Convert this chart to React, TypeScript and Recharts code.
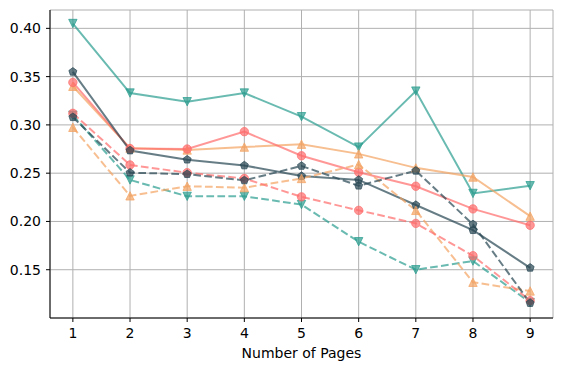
import { LineChart, Line, XAxis, YAxis, CartesianGrid } from 'recharts';

const pages = [1, 2, 3, 4, 5, 6, 7, 8, 9];

const tealSolid = [0.405, 0.333, 0.324, 0.333, 0.3085, 0.277, 0.335, 0.229, 0.237];
const orangeSolid = [0.340, 0.276, 0.274, 0.277, 0.280, 0.270, 0.2555, 0.246, 0.2055];
const salmonSolid = [0.344, 0.2755, 0.275, 0.293, 0.268, 0.251, 0.2365, 0.213, 0.196];
const darkSolid = [0.355, 0.2735, 0.264, 0.258, 0.247, 0.243, 0.217, 0.191, 0.152];

const salmonDashed = [0.312, 0.2585, 0.2505, 0.2445, 0.2255, 0.2115, 0.198, 0.1645, 0.118];
const darkDashed = [0.308, 0.2505, 0.249, 0.2425, 0.2575, 0.237, 0.2525, 0.197, 0.1155];
const orangeDashed = [0.2975, 0.2265, 0.2365, 0.235, 0.2445, 0.259, 0.2115, 0.137, 0.128];
const tealDashed = [0.310, 0.243, 0.226, 0.226, 0.2175, 0.179, 0.150, 0.159, 0.116];

const yTicks = [0.15, 0.2, 0.25, 0.3, 0.35, 0.4];

const TEAL = '#2a9d8f';
const DARK = '#264653';
const SALMON = '#ff6b6b';
const ORANGE = '#f4a261';
const ALPHA = 0.7;

type Shape = 'circle' | 'up' | 'down' | 'pentagon';

const series: { key: string; values: number[]; color: string; shape: Shape; dashed: boolean }[] = [
  { key: 'tealSolid', values: tealSolid, color: TEAL, shape: 'down', dashed: false },
  { key: 'orangeSolid', values: orangeSolid, color: ORANGE, shape: 'up', dashed: false },
  { key: 'salmonSolid', values: salmonSolid, color: SALMON, shape: 'circle', dashed: false },
  { key: 'darkSolid', values: darkSolid, color: DARK, shape: 'pentagon', dashed: false },
  { key: 'tealDashed', values: tealDashed, color: TEAL, shape: 'down', dashed: true },
  { key: 'orangeDashed', values: orangeDashed, color: ORANGE, shape: 'up', dashed: true },
  { key: 'salmonDashed', values: salmonDashed, color: SALMON, shape: 'circle', dashed: true },
  { key: 'darkDashed', values: darkDashed, color: DARK, shape: 'pentagon', dashed: true },
];

const data = pages.map((page, i) => {
  const row: Record<string, number> = { page };
  series.forEach((s) => {
    row[s.key] = s.values[i];
  });
  return row;
});

const S = 4.2;

function markerPath(shape: Shape, cx: number, cy: number) {
  if (shape === 'up') {
    return `M${cx},${cy - S}L${cx - S},${cy + S}L${cx + S},${cy + S}Z`;
  }
  if (shape === 'down') {
    return `M${cx},${cy + S}L${cx - S},${cy - S}L${cx + S},${cy - S}Z`;
  }
  if (shape === 'pentagon') {
    const pts = [0, 1, 2, 3, 4].map((k) => {
      const a = -Math.PI / 2 + (k * 2 * Math.PI) / 5;
      return `${cx + S * Math.cos(a)},${cy + S * Math.sin(a)}`;
    });
    return `M${pts.join('L')}Z`;
  }
  return `M${cx - S},${cy}a${S},${S} 0 1,0 ${2 * S},0a${S},${S} 0 1,0 ${-2 * S},0`;
}

const makeDot = (shape: Shape, color: string) => (props: any) => {
  const { cx, cy, index } = props;
  if (cx == null || cy == null) return <g key={`d-${index}`} />;
  return (
    <path
      key={`d-${shape}-${index}`}
      d={markerPath(shape, cx, cy)}
      fill={color}
      fillOpacity={ALPHA}
      stroke={color}
      strokeOpacity={ALPHA}
      strokeWidth={1}
    />
  );
};

const tickStyle = { fill: '#000', fontSize: 14, fontFamily: 'DejaVu Sans' };

export default function App() {
  return (
    <div style={{ position: 'absolute', left: 0, top: 0, background: '#fff' }}>
      <LineChart
        width={562}
        height={371}
        data={data}
        margin={{ top: 10, right: 9, bottom: 0, left: 0 }}
      >
        <CartesianGrid stroke="#b0b0b0" strokeWidth={1} />
        <XAxis
          dataKey="page"
          type="number"
          domain={[0.6, 9.4]}
          ticks={pages}
          allowDataOverflow
          height={53}
          stroke="#000"
          axisLine={{ stroke: '#000', strokeWidth: 1 }}
          tickLine={{ stroke: '#000' }}
          tickSize={4}
          tickMargin={6}
          tick={tickStyle}
          label={{
            value: 'Number of Pages',
            position: 'insideBottom',
            offset: 13,
            fill: '#000',
            fontSize: 14,
            fontFamily: 'DejaVu Sans',
          }}
        />
        <XAxis
          xAxisId="top"
          orientation="top"
          dataKey="page"
          type="number"
          domain={[0.6, 9.4]}
          allowDataOverflow
          height={0}
          axisLine={{ stroke: '#000', strokeWidth: 1 }}
          tick={false}
          tickLine={false}
        />
        <YAxis
          type="number"
          domain={[0.1, 0.419]}
          ticks={yTicks}
          allowDataOverflow
          width={50}
          axisLine={{ stroke: '#000', strokeWidth: 1 }}
          tickLine={{ stroke: '#000' }}
          tickSize={4}
          tickMargin={5}
          tick={tickStyle}
          tickFormatter={(v: number) => v.toFixed(2)}
        />
        <YAxis
          yAxisId="right"
          orientation="right"
          type="number"
          domain={[0.1, 0.419]}
          allowDataOverflow
          width={0}
          axisLine={{ stroke: '#000', strokeWidth: 1 }}
          tick={false}
          tickLine={false}
        />
        {series.map((s) => (
          <Line
            key={s.key}
            dataKey={s.key}
            type="linear"
            stroke={s.color}
            strokeOpacity={ALPHA}
            strokeWidth={2}
            strokeDasharray={s.dashed ? '7.7 3.3' : undefined}
            dot={makeDot(s.shape, s.color)}
            activeDot={false}
            isAnimationActive={false}
          />
        ))}
      </LineChart>
    </div>
  );
}
